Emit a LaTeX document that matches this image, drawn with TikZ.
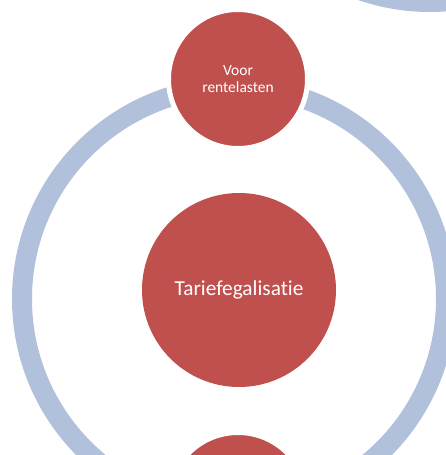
\documentclass[tikz,border=0pt]{standalone}
\usepackage{fontspec}
\setmainfont[RawFeature={-liga}]{Carlito}
\definecolor{ringblue}{RGB}{178,193,219}
\definecolor{nodered}{RGB}{192,80,77}
\begin{document}
\begin{tikzpicture}[x=1pt,y=-1pt,
  ring/.style={draw=ringblue,line width=20pt},
  bubble/.style={circle,fill=nodered,draw=white,line width=5pt,inner sep=0pt,
    minimum size=139pt,text=white,align=center,
    font=\fontsize{15.5}{17.3}\selectfont},
  hub/.style={circle,fill=nodered,inner sep=0pt,minimum size=194pt,
    text=white,font=\fontsize{21.3}{25}\selectfont}]
\useasboundingbox (0,0) rectangle (446,455);
\begin{scope}
  \clip (0,0) rectangle (446,455);
  % cycle rings
  \draw[ring] (234,299) circle[radius=212];
  \draw[ring] (430,-209) circle[radius=211];
  % nodes on and inside the cycle
  \node[bubble] (rente) at (238,79) {Voor\\rentelasten};
  \node[hub] (tarief) at (239,290) {Tariefegalisatie};
  \node[bubble] (volgende) at (238,502) {};
\end{scope}
\end{tikzpicture}
\end{document}
